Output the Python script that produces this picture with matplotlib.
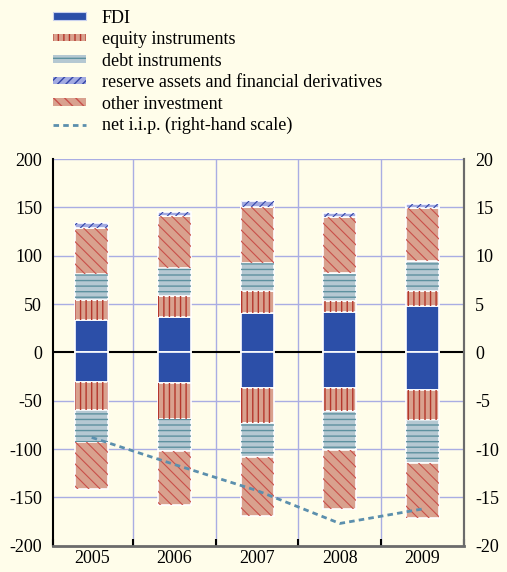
import matplotlib
matplotlib.use("Agg")
import matplotlib.pyplot as plt
import numpy as np
from matplotlib.patches import Patch
from matplotlib.lines import Line2D

years = ["2005", "2006", "2007", "2008", "2009"]
# positive side (assets)
fdi_pos = [33.5, 37.0, 40.4, 41.9, 48.1]
equity_pos = [21.0, 21.5, 23.0, 11.7, 15.2]
debt_pos = [26.5, 29.0, 29.0, 28.4, 31.3]
other_pos = [48.0, 54.0, 58.3, 58.4, 54.6]
reserve_pos = [4.7, 3.7, 6.0, 4.2, 4.4]
# negative side (liabilities)
fdi_neg = [-30.4, -32.0, -36.6, -36.6, -39.4]
equity_neg = [-28.8, -37.0, -36.4, -24.4, -30.6]
debt_neg = [-33.7, -33.0, -35.5, -39.8, -44.4]
other_neg = [-48.6, -56.0, -60.8, -60.8, -56.6]
# net i.i.p. (right-hand scale)
net_iip = [-8.8, -11.6, -14.3, -17.7, -16.2]

left_ticks = [200, 150, 100, 50, 0, -50, -100, -150, -200]
right_ticks = [20, 15, 10, 5, 0, -5, -10, -15, -20]

BG = "#fffdea"
GRID = "#a9ade3"
plt.rcParams["font.family"] = ["Liberation Serif", "DejaVu Serif"]
plt.rcParams["hatch.linewidth"] = 1.0

fig = plt.figure(figsize=(5.07, 5.72), dpi=100, facecolor=BG)
ax = fig.add_axes([0.105, 0.046, 0.81, 0.676])
ax.set_facecolor(BG)

x = np.arange(len(years))
w = 0.40

styles = {
    "FDI": dict(fc="#2c4fa8", hc=None, hatch=None, hl=1.0),
    "equity": dict(fc="#d9a18e", hc="#b5372c", hatch="|||", hl=1.0),
    "debt": dict(fc="#b5c8d2", hc="#5e919f", hatch="---", hl=1.0),
    "reserve": dict(fc="#a3abe2", hc="#3446a8", hatch="////", hl=0.8),
    "other": dict(fc="#d9a18e", hc="#c9504a", hatch="\\\\\\", hl=0.8),
}

def draw(vals, bottom, key):
    st = styles[key]
    ax.bar(x, vals, w, bottom=bottom, color=st["fc"], edgecolor="white",
           linewidth=1.2, zorder=3)
    if st["hatch"]:
        bars = ax.bar(x, vals, w, bottom=bottom, color="none", edgecolor=st["hc"],
                      linewidth=0, hatch=st["hatch"], zorder=4)
        for p in bars:
            try:
                p.set_hatch_linewidth(st["hl"])
            except Exception:
                pass

pos_series = [("FDI", fdi_pos), ("equity", equity_pos), ("debt", debt_pos),
              ("other", other_pos), ("reserve", reserve_pos)]
neg_series = [("FDI", fdi_neg), ("equity", equity_neg), ("debt", debt_neg),
              ("other", other_neg)]

b = np.zeros(len(x))
for k, v in pos_series:
    draw(v, b.copy(), k)
    b += np.array(v)
b = np.zeros(len(x))
for k, v in neg_series:
    draw(v, b.copy(), k)
    b += np.array(v)

ax.set_xlim(-0.465, 4.5)
ax.set_ylim(-200, 200)
ax.set_yticks(left_ticks)
ax.set_yticklabels([str(t) for t in left_ticks], fontsize=13)
for t in [50, 100, 150, 200, -50, -100, -150]:
    ax.axhline(t, color=GRID, lw=1, zorder=1)
for bnd in [0.5, 1.5, 2.5, 3.5]:
    ax.axvline(bnd, color=GRID, lw=1, zorder=1)
ax.axhline(0, color="black", lw=1.5, zorder=2)

ax.set_xticks(x)
ax.set_xticklabels(years, fontsize=13)
ax.tick_params(axis="x", length=0, pad=3)
ax.set_xticks([-0.465, 0.5, 1.5, 2.5, 3.5, 4.5], minor=True)
ax.tick_params(axis="x", which="minor", direction="in", length=5,
               width=1.5, color="black")
ax.tick_params(axis="y", length=0, pad=8)

ax.spines["top"].set_visible(False)
ax.spines["left"].set_color("black")
ax.spines["left"].set_linewidth(1.5)
ax.spines["bottom"].set_color("#6b6b6b")
ax.spines["bottom"].set_linewidth(2)
ax.spines["right"].set_color("#6b6b6b")
ax.spines["right"].set_linewidth(1.5)

ax2 = ax.twinx()
ax2.set_ylim(-20, 20)
ax2.set_yticks(right_ticks)
ax2.set_yticklabels([str(t) for t in right_ticks], fontsize=13)
ax2.tick_params(axis="y", length=0, pad=8)
ax2.plot(x, net_iip, color="#5b8fad", lw=2, linestyle=(0, (2, 1.5)), zorder=5)
for s in ["top", "left", "bottom"]:
    ax2.spines[s].set_visible(False)
ax2.spines["right"].set_color("#6b6b6b")
ax2.spines["right"].set_linewidth(1.5)

handles = [
    Patch(facecolor=styles["FDI"]["fc"], edgecolor="#c8d0ee", linewidth=0.8),
    Patch(facecolor=styles["equity"]["fc"], edgecolor=styles["equity"]["hc"],
          hatch="|||", linewidth=0),
    Patch(facecolor=styles["debt"]["fc"], edgecolor=styles["debt"]["hc"],
          hatch="-", linewidth=0),
    Patch(facecolor=styles["reserve"]["fc"], edgecolor=styles["reserve"]["hc"],
          hatch="////", linewidth=0),
    Patch(facecolor=styles["other"]["fc"], edgecolor=styles["other"]["hc"],
          hatch="\\\\\\", linewidth=0),
    Line2D([0], [0], color="#5b8fad", lw=2, linestyle=(0, (2, 1.5))),
]
labels = ["FDI", "equity instruments", "debt instruments",
          "reserve assets and financial derivatives", "other investment",
          "net i.i.p. (right-hand scale)"]
fig.legend(handles, labels, loc="upper left", bbox_to_anchor=(0.09, 0.996),
           frameon=False, fontsize=13, handlelength=1.85, handleheight=0.28,
           handletextpad=0.85, labelspacing=0.25, borderaxespad=0)

fig.savefig("out.png", dpi=100, facecolor=BG)
